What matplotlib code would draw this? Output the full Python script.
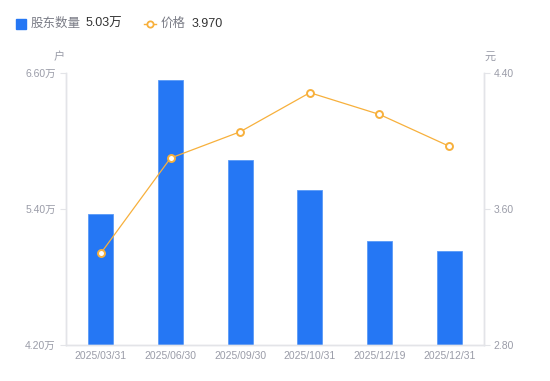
import matplotlib
matplotlib.use("Agg")
import matplotlib.pyplot as plt
from matplotlib.lines import Line2D

plt.rcParams['font.family'] = ['Liberation Sans', 'Noto Sans CJK SC', 'DejaVu Sans']

# --- data ---
dates = ["2025/03/31", "2025/06/30", "2025/09/30", "2025/10/31", "2025/12/19", "2025/12/31"]
holders = [5.36, 6.54, 5.83, 5.57, 5.12, 5.03]   # 万户
price = [3.34, 3.90, 4.055, 4.285, 4.157, 3.970]  # 元

BLUE = "#2577f4"
ORANGE = "#f7b03c"
GRAY = "#9a9ca8"
AXIS = "#e3e4e8"

fig = plt.figure(figsize=(5.5, 3.81), dpi=100)
ax = fig.add_axes([0.12, 0.0945, 0.76, 0.7135])
ax2 = ax.twinx()

x = list(range(len(dates)))
ax.bar(x, holders, width=0.36, color=BLUE, edgecolor="#5a9af7", linewidth=0.6, zorder=2)
ax.set_ylim(4.2, 6.6)
ax.set_yticks([4.2, 5.4, 6.6])
ax.set_yticklabels(["4.20万", "5.40万", "6.60万"])
ax.set_xlim(-0.5, len(dates) - 0.5)
ax.set_xticks(x)
ax.set_xticklabels(dates)

ax2.plot(x, price, color=ORANGE, linewidth=0.9, marker="o", markersize=5,
         markerfacecolor="white", markeredgecolor=ORANGE, markeredgewidth=1.4, zorder=3)
ax2.set_ylim(2.8, 4.4)
ax2.set_yticks([2.8, 3.6, 4.4])
ax2.set_yticklabels(["2.80", "3.60", "4.40"])

for a in (ax, ax2):
    for s in a.spines.values():
        s.set_color(AXIS)
        s.set_linewidth(1)
    a.spines["top"].set_visible(False)
    a.tick_params(colors=GRAY, labelsize=7.5, length=4, width=0.8)
    a.tick_params(axis="y", color=AXIS, labelcolor=GRAY)
ax.tick_params(axis="x", length=0, pad=4, labelcolor=GRAY)
ax2.tick_params(axis="y", pad=3)

# axis units
fig.text(59 / 550, 1 - 57 / 381, "户", color=GRAY, fontsize=8, ha="center", va="center")
fig.text(490 / 550, 1 - 57 / 381, "元", color=GRAY, fontsize=8, ha="center", va="center")

# legend
ly = 1 - 24 / 381
fig.add_artist(Line2D([21 / 550], [ly], marker="s", markersize=7, color=BLUE, linestyle="none",
                      transform=fig.transFigure))
fig.text(31 / 550, ly, "股东数量", color="#7a7c86", fontsize=9, va="center")
fig.text(86 / 550, ly, "5.03万", color="#333333", fontsize=9, va="center")
fig.add_artist(Line2D([144 / 550, 156 / 550], [ly, ly], color=ORANGE, linewidth=1,
                      transform=fig.transFigure))
fig.add_artist(Line2D([150 / 550], [ly], marker="o", markersize=4.5, markerfacecolor="white",
                      markeredgecolor=ORANGE, markeredgewidth=1.3, linestyle="none",
                      transform=fig.transFigure))
fig.text(161 / 550, ly, "价格", color="#7a7c86", fontsize=9, va="center")
fig.text(192 / 550, ly, "3.970", color="#333333", fontsize=9, va="center")

fig.savefig("out.png", dpi=100)
